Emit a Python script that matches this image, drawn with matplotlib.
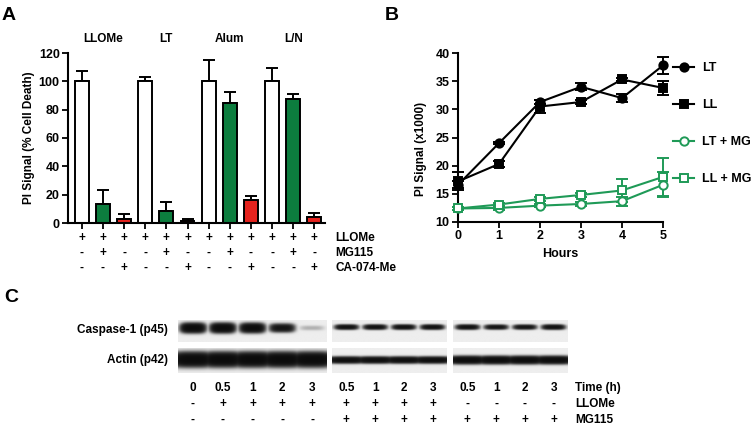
""" Recreates a three-panel figure: cell death bars, PI time course and a caspase-1 blot. """

import matplotlib
matplotlib.use("Agg")
import matplotlib.pyplot as plt
import matplotlib.transforms as mtrans
import numpy as np

plt.rcParams['font.family'] = ['Liberation Sans', 'DejaVu Sans']
plt.rcParams['font.weight'] = 'bold'

# ---- Panel A data ----
groups = ["LLOMe", "LT", "Alum", "L/N"]
ctrl_vals = [100, 100, 100, 100]
ctrl_err = [7.3, 3.3, 15.2, 9.2]
mg_vals = [13.1, 8.8, 84.4, 87.4]
mg_err = [10.5, 5.7, 8.3, 3.4]
ca_vals = [2.5, 1.7, 16.4, 4.3]
ca_err = [3.7, 0.9, 2.9, 3.1]
a_rows = ["LLOMe", "MG115", "CA-074-Me"]
a_llome = ["+"] * 12
a_mg115 = ["-", "+", "-"] * 4
a_ca074 = ["-", "-", "+"] * 4

# ---- Panel B data ----
hours = [0, 1, 2, 3, 4, 5]
lt = [16.6, 24.0, 31.3, 34.0, 32.0, 37.8]
lt_err = [0.6, 0.2, 0.4, 0.6, 0.7, 1.5]
ll = [17.2, 20.3, 30.5, 31.3, 35.3, 33.8]
ll_err = [1.6, 0.5, 1.1, 0.3, 0.3, 1.2]
lt_mg = [12.4, 12.5, 12.9, 13.2, 13.7, 16.6]
lt_mg_err = [0.3, 0.3, 0.3, 0.3, 0.8, 2.2]
ll_mg = [12.4, 13.1, 14.1, 14.8, 15.6, 18.0]
ll_mg_err = [0.3, 0.3, 0.4, 0.3, 2.1, 3.4]

# ---- Panel C data (relative band intensity per lane) ----
casp_bands = [[1.0, 1.0, 0.97, 0.8, 0.18], [0.85, 0.85, 0.85, 0.85], [0.85, 0.8, 0.8, 0.85]]
actin_bands = [[1.0, 1.0, 1.0, 1.0, 1.0], [0.9, 0.9, 0.9, 0.9], [0.95, 0.95, 0.95, 0.95]]
c_time = ["0", "0.5", "1", "2", "3", "0.5", "1", "2", "3", "0.5", "1", "2", "3"]
c_llome = ["-", "+", "+", "+", "+", "+", "+", "+", "+", "-", "-", "-", "-"]
c_mg115 = ["-", "-", "-", "-", "-", "+", "+", "+", "+", "+", "+", "+", "+"]

W, H = 756, 429
FS = 8.5
GREEN_BAR = '#0c7d3e'
RED_BAR = '#e5231e'
GREEN_LINE = '#1f9a57'


def box(l, t, r, b):
    """ pixel box -> figure fraction rect """
    return [l / W, 1 - b / H, (r - l) / W, (b - t) / H]


def fy(y):
    return 1 - y / H


def style_axes(ax):
    for side in ['top', 'right']:
        ax.spines[side].set_visible(False)
    for side in ['left', 'bottom']:
        ax.spines[side].set_linewidth(1.5)
    ax.tick_params(direction='out', length=4, width=1.3, labelsize=FS + 0.5, pad=2)
    for lab in ax.get_xticklabels() + ax.get_yticklabels():
        lab.set_fontweight('bold')


fig = plt.figure(figsize=(W / 100, H / 100), dpi=100)

# ---------------- Panel A ----------------
axA = fig.add_axes(box(68, 53, 325, 223))
n = len(groups)
x = np.arange(3 * n)
vals = np.ravel(np.column_stack([ctrl_vals, mg_vals, ca_vals]))
errs = np.ravel(np.column_stack([ctrl_err, mg_err, ca_err]))
colors = ['white', GREEN_BAR, RED_BAR] * n
axA.bar(x, vals, width=0.66, color=colors, edgecolor='black', linewidth=1.4, zorder=2)
axA.errorbar(x, vals, yerr=[np.zeros_like(errs), errs], fmt='none', ecolor='black',
             elinewidth=1.4, capsize=4, capthick=1.4, zorder=1)
axA.set_xlim(-0.65, 3 * n - 0.5)
axA.set_ylim(0, 120)
axA.set_yticks(range(0, 121, 20))
axA.set_xticks(x)
axA.set_xticklabels([])
style_axes(axA)
axA.set_ylabel("PI Signal (% Cell Death)", fontsize=FS, fontweight='bold')
axA.yaxis.set_label_coords(-0.13, 0.5)

tA = mtrans.blended_transform_factory(axA.transData, fig.transFigure)
for i, g in enumerate(groups):
    axA.text(3 * i + 1, fy(39), g, transform=tA, ha='center', va='center', fontsize=FS)
for row_y, signs, name in zip([238, 253, 268], [a_llome, a_mg115, a_ca074], a_rows):
    for xi, s in zip(x, signs):
        axA.text(xi, fy(row_y), s, transform=tA, ha='center', va='center', fontsize=FS)
    fig.text(335 / W, fy(row_y), name, ha='left', va='center', fontsize=FS)

# ---------------- Panel B ----------------
axB = fig.add_axes(box(458, 53, 663, 222))
series = [
    (lt, lt_err, 'o', 'black', 'black', "LT"),
    (ll, ll_err, 's', 'black', 'black', "LL"),
    (lt_mg, lt_mg_err, 'o', GREEN_LINE, 'white', "LT + MG"),
    (ll_mg, ll_mg_err, 's', GREEN_LINE, 'white', "LL + MG"),
]
handles = []
labels = []
for vals_b, err_b, mk, col, face, lab in series:
    h = axB.errorbar(hours, vals_b, yerr=err_b, fmt='-' + mk, color=col, mfc=face, mec=col,
                     mew=1.4, ms=6, lw=1.5, elinewidth=1.4, capsize=4, capthick=1.4,
                     clip_on=False, zorder=3)
    for art in h.lines[1] + h.lines[2]:
        art.set_clip_on(False)
    handles.append(h.lines[0])
    labels.append(lab)
axB.set_xlim(0, 5)
axB.set_ylim(10, 40)
axB.set_xticks(hours)
axB.set_yticks(range(10, 41, 5))
style_axes(axB)
axB.set_xlabel("Hours", fontsize=FS + 0.5, fontweight='bold', labelpad=4)
axB.set_ylabel("PI Signal (x1000)", fontsize=FS, fontweight='bold')
axB.yaxis.set_label_coords(-0.15, 0.43)
axB.legend(handles, labels, loc='upper left',
           bbox_to_anchor=(673 / W, fy(62)), bbox_transform=fig.transFigure,
           frameon=False, borderpad=0, borderaxespad=0,
           handlelength=1.7, handletextpad=0.6, labelspacing=2.0,
           prop={'weight': 'bold', 'size': FS + 0.5})

# ---------------- Panel C ----------------
panel_x = [(178, 327), (332, 447), (453, 568)]
row_y = {'casp': (320, 342), 'actin': (348, 373)}
# (band centre, band half-height, lane half-width) per blot panel, in row units
band_style = {'casp': [(0.36, 0.24, 0.44), (0.32, 0.14, 0.42), (0.32, 0.14, 0.42)],
              'actin': [(0.48, 0.30, 0.75), (0.50, 0.15, 0.75), (0.50, 0.17, 0.75)]}


def blot_image(levels, center, half, merge):
    nl = len(levels)
    xs = np.linspace(-0.5, nl - 0.5, 60 * nl)
    ys = np.linspace(0, 1, 80)
    raw = np.zeros((ys.size, xs.size))
    for i, lv in enumerate(levels):
        th = half * max(lv, 0.4) ** 0.7
        hx = np.exp(-np.abs((xs - i) / merge) ** 4)
        vy = np.exp(-np.abs((ys - center) / th) ** 2.5)
        raw = np.maximum(raw, lv * np.outer(vy, hx))
    dark = 1 - np.exp(-4 * raw ** 1.5)
    return 0.93 - 0.90 * dark


blot_axes = []
for p, (l, r) in enumerate(panel_x):
    for key, bands in [('casp', casp_bands), ('actin', actin_bands)]:
        t, b = row_y[key]
        ax = fig.add_axes(box(l, t, r, b))
        cen, half, merge = band_style[key][p]
        img = blot_image(bands[p], cen, half, merge)
        nl = len(bands[p])
        ax.imshow(img, cmap='gray', vmin=0, vmax=1, aspect='auto',
                  extent=(-0.5, nl - 0.5, 1, 0), interpolation='bilinear')
        ax.set_axis_off()
        if key == 'casp':
            blot_axes.append(ax)

fig.text(168 / W, fy(330), "Caspase-1 (p45)", ha='right', va='center', fontsize=FS)
fig.text(168 / W, fy(360), "Actin (p42)", ha='right', va='center', fontsize=FS)

k = 0
for ax, bands in zip(blot_axes, casp_bands):
    tC = mtrans.blended_transform_factory(ax.transData, fig.transFigure)
    for i in range(len(bands)):
        for yy, lane_labels in zip([388, 404, 420], [c_time, c_llome, c_mg115]):
            ax.text(i, fy(yy), lane_labels[k], transform=tC, ha='center', va='center', fontsize=FS)
        k += 1
for yy, name in zip([388, 404, 420], ["Time (h)", "LLOMe", "MG115"]):
    fig.text(575 / W, fy(yy), name, ha='left', va='center', fontsize=FS)

# panel letters
fig.text(9 / W, fy(15), "A", ha='center', va='center', fontsize=14, fontweight='bold')
fig.text(392 / W, fy(15), "B", ha='center', va='center', fontsize=14, fontweight='bold')
fig.text(11 / W, fy(297), "C", ha='center', va='center', fontsize=14, fontweight='bold')

fig.savefig("out.png", dpi=100)
